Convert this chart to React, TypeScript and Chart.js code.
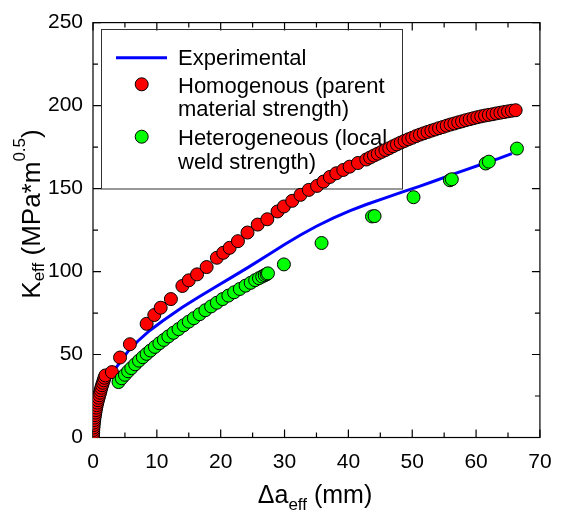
import React, { useEffect, useRef } from 'react';
import { Chart, registerables } from 'chart.js';

Chart.register(...registerables);

// ---------- data ----------
const X_TICKS = [0, 10, 20, 30, 40, 50, 60, 70];
const Y_TICKS = [0, 50, 100, 150, 200, 250];

// Experimental (blue line)
const EXP_X = [0, 0.2, 0.6, 1.2, 2.0, 3.0, 4.0, 5.5, 7.0, 8.9, 11.0, 14.0, 16.5, 19.1, 21.7, 24.3, 27.4, 30.0, 32.5, 35.0, 37.6, 40.2, 42.8, 45.8, 48.5, 51.0, 53.6, 56.1, 58.7, 61.2, 63.5, 65.6];
const EXP_Y = [0, 8, 16, 25, 33, 39, 44, 52, 58, 64.5, 70.5, 78.5, 84.5, 90.5, 96.5, 102.5, 110, 116.3, 122, 127.3, 132.2, 136.5, 140.4, 144.4, 148, 151.2, 154.7, 158.2, 161.7, 165.1, 168, 171.1];

// Homogenous (parent material strength) - red points
const HOM_X = [
  0.0, 0.0, 0.02, 0.04, 0.07, 0.1, 0.14, 0.19, 0.24, 0.3, 0.36, 0.43, 0.5, 0.58, 0.67, 0.77, 0.88, 0.99, 1.1, 1.2, 1.3, 1.42, 1.55, 1.68, 1.8, 1.95,
  2.96, 4.24, 5.78, 8.4, 9.6, 10.6, 12.2, 14.0, 15.0, 16.3, 17.8, 19.4, 20.4, 21.4, 22.7, 24.2, 25.8, 27.3, 28.9, 29.9, 31.2, 32.5, 33.8, 35.1, 36.1, 37.1, 38.1, 39.2, 40.2, 41.5, 42.8,
  43.4, 44.0, 44.6, 45.2, 45.8, 46.4, 47.0, 47.6, 48.2, 48.8, 49.4, 50.0, 50.6, 51.2, 51.8, 52.4, 53.0, 53.6, 54.2, 54.8, 55.4, 56.0, 56.6, 57.2, 57.8, 58.4, 59.0, 59.6, 60.2, 60.8, 61.4, 62.0, 62.6, 63.2, 63.8, 64.4, 65.0, 65.6, 66.2
];
const HOM_Y = [
  0, 1.5, 3, 4.5, 6, 7.5, 9, 10.5, 12, 13.5, 15, 16.5, 18, 19.5, 21, 22.5, 24, 25.5, 27, 28.5, 30, 31.5, 33, 34.5, 36, 37.4,
  39.4, 48.2, 56.2, 68.5, 73.8, 78.2, 83.4, 91.3, 94.7, 98.3, 102.7, 108.3, 111.3, 114.3, 118.3, 123.5, 128.3, 131.5, 136.2, 139.2, 142.6, 146.2, 149.2, 151.6, 154.2, 157.0, 159.2, 161.2, 163.2, 165.4, 167.5,
  168.7, 169.9, 171.0, 172.1, 173.2, 174.3, 175.5, 176.6, 177.7, 178.7, 179.7, 180.6, 181.6, 182.5, 183.3, 184.1, 184.9, 185.6, 186.4, 187.1, 187.9, 188.6, 189.2, 189.9, 190.5, 191.2, 191.8, 192.4, 193.0, 193.5, 194.0, 194.4, 194.8, 195.3, 195.7, 196.1, 196.5, 196.9, 197.2
];

// Heterogeneous (local weld strength) - green points
const HET_X = [
  4.0, 4.5, 5.0, 5.5, 6.0, 6.6, 7.2, 7.8, 8.4, 9.0, 9.7, 10.4, 11.1, 11.8, 12.6, 13.4, 14.2, 15.0, 15.8, 16.7, 17.6, 18.5, 19.4, 20.3, 21.2, 22.1, 23.0, 23.9, 24.7, 25.4, 26.0, 26.5, 26.9, 27.2, 27.4,
  29.9, 35.8, 43.7, 44.1, 50.2, 55.9, 56.2, 61.5, 62.0, 66.4
];
const HET_Y = [
  33.4, 35.7, 37.8, 39.9, 41.8, 44.1, 46.3, 48.4, 50.4, 52.4, 54.6, 56.8, 58.8, 60.9, 63.1, 65.3, 67.6, 69.8, 71.9, 74.3, 76.7, 79.0, 81.2, 83.4, 85.5, 87.5, 89.5, 91.5, 93.2, 94.8, 96.0, 97.0, 97.8, 98.4, 98.9,
  104.3, 117.2, 133.2, 133.4, 144.8, 155.0, 155.6, 165.1, 166.2, 174.1
];

const LEGEND_LINES = [
  ['Experimental'],
  ['Homogenous (parent', 'material strength)'],
  ['Heterogeneous (local', 'weld strength)'],
];

const BLUE = '#0000ff';
const RED = '#ff0000';
const GREEN = '#00ff00';
const FONT = '"Liberation Sans", Arial, Helvetica, sans-serif';
const POINT_R = 6.5;

type Part = { t: string; size: number; dy: number };

function drawRich(ctx: CanvasRenderingContext2D, parts: Part[], cx: number) {
  let total = 0;
  const widths = parts.map((p) => {
    ctx.font = `${p.size}px ${FONT}`;
    const w = ctx.measureText(p.t).width;
    total += w;
    return w;
  });
  let x = cx - total / 2;
  parts.forEach((p, i) => {
    ctx.font = `${p.size}px ${FONT}`;
    ctx.fillText(p.t, x, p.dy);
    x += widths[i];
  });
}

const decorPlugin = {
  id: 'decor',
  beforeDatasetsDraw(chart: any) {
    const { ctx, chartArea: a, scales } = chart;
    const xs = scales.x;
    const ys = scales.y;
    ctx.save();
    // frame
    ctx.strokeStyle = '#000';
    ctx.lineWidth = 1.2;
    ctx.strokeRect(a.left, a.top, a.right - a.left, a.bottom - a.top);
    // inward ticks (major + minor)
    ctx.beginPath();
    for (let i = 0; i < X_TICKS.length; i++) {
      const vals = [X_TICKS[i]];
      if (i < X_TICKS.length - 1) vals.push((X_TICKS[i] + X_TICKS[i + 1]) / 2);
      vals.forEach((v, k) => {
        const L = k === 0 ? 8 : 5;
        const px = xs.getPixelForValue(v);
        ctx.moveTo(px, a.bottom);
        ctx.lineTo(px, a.bottom - L);
        ctx.moveTo(px, a.top);
        ctx.lineTo(px, a.top + L);
      });
    }
    for (let i = 0; i < Y_TICKS.length; i++) {
      const vals = [Y_TICKS[i]];
      if (i < Y_TICKS.length - 1) vals.push((Y_TICKS[i] + Y_TICKS[i + 1]) / 2);
      vals.forEach((v, k) => {
        const L = k === 0 ? 8 : 5;
        const py = ys.getPixelForValue(v);
        ctx.moveTo(a.left, py);
        ctx.lineTo(a.left + L, py);
        ctx.moveTo(a.right, py);
        ctx.lineTo(a.right - L, py);
      });
    }
    ctx.stroke();

    // legend box
    ctx.strokeStyle = '#333';
    ctx.lineWidth = 1;
    ctx.strokeRect(101.5, 29.5, 301, 159.5);
    ctx.strokeStyle = BLUE;
    ctx.lineWidth = 3;
    ctx.beginPath();
    ctx.moveTo(116, 57.7);
    ctx.lineTo(167, 57.7);
    ctx.stroke();
    const marker = (x: number, y: number, c: string) => {
      ctx.beginPath();
      ctx.arc(x, y, POINT_R, 0, Math.PI * 2);
      ctx.fillStyle = c;
      ctx.fill();
      ctx.lineWidth = 1;
      ctx.strokeStyle = '#000';
      ctx.stroke();
    };
    marker(141.7, 84.3, RED);
    marker(141.7, 136.7, GREEN);
    ctx.fillStyle = '#000';
    ctx.font = `22px ${FONT}`;
    ctx.textAlign = 'left';
    ctx.textBaseline = 'alphabetic';
    ctx.fillText(LEGEND_LINES[0][0], 178, 65);
    ctx.fillText(LEGEND_LINES[1][0], 178, 92.7);
    ctx.fillText(LEGEND_LINES[1][1], 178, 116.4);
    ctx.fillText(LEGEND_LINES[2][0], 178, 145);
    ctx.fillText(LEGEND_LINES[2][1], 178, 168.6);
    ctx.restore();
  },
  afterDraw(chart: any) {
    const { ctx } = chart;
    ctx.save();
    ctx.fillStyle = '#000';
    ctx.textAlign = 'left';
    ctx.textBaseline = 'alphabetic';
    // x title
    ctx.translate(0, 503.3);
    drawRich(ctx, [
      { t: '\u0394a', size: 25, dy: 0 },
      { t: 'eff', size: 17, dy: 6.5 },
      { t: ' (mm)', size: 25, dy: 0 },
    ], 315);
    ctx.restore();
    ctx.save();
    ctx.fillStyle = '#000';
    ctx.textAlign = 'left';
    ctx.textBaseline = 'alphabetic';
    ctx.translate(39.5, 214);
    ctx.rotate(-Math.PI / 2);
    drawRich(ctx, [
      { t: 'K', size: 26, dy: 0 },
      { t: 'eff', size: 17, dy: 4 },
      { t: ' (MPa*m', size: 26, dy: 0 },
      { t: '0.5', size: 17, dy: -15 },
      { t: ')', size: 26, dy: 0 },
    ], 0);
    ctx.restore();
  },
};

export default function App() {
  const ref = useRef<HTMLCanvasElement | null>(null);
  useEffect(() => {
    if (!ref.current) return;
    const chart = new Chart(ref.current, {
      type: 'scatter',
      data: {
        datasets: [
          {
            label: 'Experimental',
            data: EXP_X.map((x, i) => ({ x, y: EXP_Y[i] })),
            showLine: true,
            borderColor: BLUE,
            borderWidth: 3,
            pointRadius: 0,
            fill: false,
            tension: 0,
            order: 3,
          },
          {
            label: 'Homogenous (parent material strength)',
            data: HOM_X.map((x, i) => ({ x, y: HOM_Y[i] })),
            backgroundColor: RED,
            borderColor: '#000',
            borderWidth: 1,
            pointRadius: POINT_R,
            order: 2,
          },
          {
            label: 'Heterogeneous (local weld strength)',
            data: HET_X.map((x, i) => ({ x, y: HET_Y[i] })),
            backgroundColor: GREEN,
            borderColor: '#000',
            borderWidth: 1,
            pointRadius: POINT_R,
            order: 1,
          },
        ],
      },
      options: {
        responsive: false,
        animation: false,
        devicePixelRatio: 1,
        layout: { padding: { top: 20, right: 17.5, left: 0, bottom: 0 } },
        plugins: { legend: { display: false }, tooltip: { enabled: false } },
        scales: {
          x: {
            type: 'linear',
            min: 0,
            max: 70,
            grid: { display: false, drawTicks: false },
            border: { display: false },
            afterBuildTicks: (s: any) => {
              s.ticks = X_TICKS.map((v) => ({ value: v }));
            },
            afterFit: (s: any) => {
              s.height = 75.5;
            },
            ticks: {
              padding: 12.4,
              color: '#000',
              font: { family: FONT, size: 21 },
              maxRotation: 0,
              callback: (v: any) => String(v),
            },
          },
          y: {
            type: 'linear',
            min: 0,
            max: 250,
            grid: { display: false, drawTicks: false },
            border: { display: false },
            afterBuildTicks: (s: any) => {
              s.ticks = Y_TICKS.map((v) => ({ value: v }));
            },
            afterFit: (s: any) => {
              s.width = 93;
            },
            ticks: {
              padding: 10,
              color: '#000',
              font: { family: FONT, size: 21 },
              callback: (v: any) => String(v),
            },
          },
        },
      },
      plugins: [decorPlugin],
    } as any);
    return () => chart.destroy();
  }, []);
  return (
    <div style={{ position: 'absolute', left: 0, top: 0, width: 564, height: 513, background: '#fff' }}>
      <canvas ref={ref} width={564} height={513} style={{ display: 'block' }} />
    </div>
  );
}
